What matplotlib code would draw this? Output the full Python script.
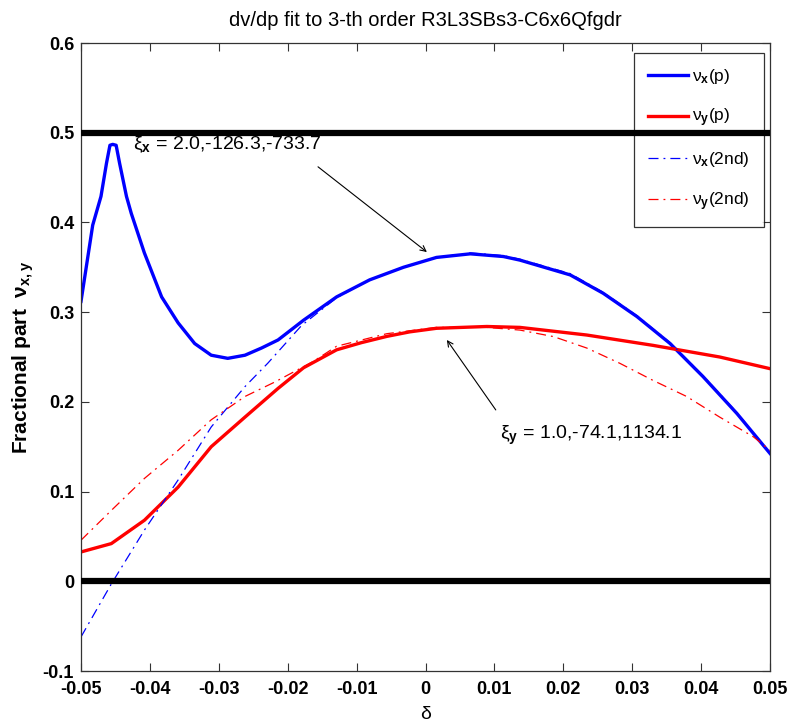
import numpy as np
import matplotlib
matplotlib.use("Agg")
import matplotlib.pyplot as plt

plt.rcParams['font.family'] = ['Liberation Sans', 'DejaVu Sans']
plt.rcParams['mathtext.fontset'] = 'custom'
plt.rcParams['mathtext.rm'] = 'Liberation Sans'
plt.rcParams['mathtext.bf'] = 'Liberation Sans:bold'
plt.rcParams['mathtext.it'] = 'Liberation Sans:italic'

# tune vs momentum deviation, full tracking
d_vx = [-0.05, -0.0483, -0.0471, -0.0463, -0.0458, -0.0454, -0.0449, -0.0444, -0.0434,
        -0.0427, -0.0408, -0.0383, -0.0359, -0.0335, -0.0311, -0.0287, -0.0262, -0.0238,
        -0.0214, -0.0177, -0.0129, -0.0081, -0.0032, 0.0016, 0.0065, 0.0113, 0.0137,
        0.021, 0.0258, 0.0307, 0.0355, 0.0403, 0.0452, 0.05]
nu_x = [0.312, 0.397, 0.429, 0.466, 0.486, 0.487, 0.486, 0.466, 0.429,
        0.410, 0.366, 0.317, 0.288, 0.265, 0.252, 0.2485, 0.252, 0.260,
        0.269, 0.291, 0.317, 0.336, 0.350, 0.361, 0.365, 0.362, 0.358,
        0.3415, 0.321, 0.295, 0.265, 0.228, 0.187, 0.1425]

d_vy = [-0.05, -0.0456, -0.0408, -0.0359, -0.0311, -0.0262, -0.0214, -0.0177, -0.0129,
        -0.0093, -0.0056, -0.0023, 0.0016, 0.0089, 0.0137, 0.0234, 0.033, 0.0427, 0.05]
nu_y = [0.0327, 0.042, 0.068, 0.105, 0.150, 0.183, 0.215, 0.238, 0.258,
        0.266, 0.273, 0.278, 0.282, 0.284, 0.283, 0.2745, 0.263, 0.250, 0.237]

# second order fits
d_fx = [-0.05, -0.0456, -0.0408, -0.0359, -0.0311, -0.0262, -0.0229, -0.018, -0.0129,
        -0.0081, -0.0032, 0.0016, 0.0065, 0.0113, 0.0137, 0.021, 0.0258, 0.0307, 0.0355,
        0.0403, 0.0452, 0.05]
fit_x = [-0.062, -0.003, 0.057, 0.113, 0.172, 0.217, 0.243, 0.285, 0.316,
         0.336, 0.350, 0.361, 0.366, 0.363, 0.359, 0.343, 0.322, 0.296, 0.266,
         0.229, 0.188, 0.143]

d_fy = [-0.05, -0.0456, -0.0408, -0.0359, -0.0311, -0.0262, -0.0219, -0.0163, -0.0129,
        -0.0056, 0.0016, 0.0089, 0.0137, 0.0186, 0.0234, 0.0282, 0.033, 0.0379, 0.0427,
        0.0476, 0.05]
fit_y = [0.0458, 0.079, 0.1146, 0.146, 0.180, 0.206, 0.222, 0.245, 0.262,
         0.276, 0.283, 0.283, 0.280, 0.2727, 0.260, 0.243, 0.224, 0.206, 0.183,
         0.161, 0.146]

xi_x = "2.0,-126.3,-733.7"
xi_y = "1.0,-74.1,1134.1"

fig = plt.figure(figsize=(7.89, 7.28), dpi=100)
ax = fig.add_axes([81 / 789, 57 / 728, 689 / 789, 628 / 728])

dashdot = (0, (8, 4, 1.5, 4))
ax.plot(d_vx, nu_x, color='#0000ff', lw=2.4, solid_joinstyle='round', label='ν$_\\mathbf{x}$(p)')
ax.plot(d_vy, nu_y, color='#ff0000', lw=2.4, solid_joinstyle='round', label='ν$_\\mathbf{y}$(p)')
ax.plot(d_fx, fit_x, color='#0000ff', lw=0.9, ls=dashdot, label='ν$_\\mathbf{x}$(2nd)')
ax.plot(d_fy, fit_y, color='#ff0000', lw=0.9, ls=dashdot, label='ν$_\\mathbf{y}$(2nd)')

# integer / half-integer resonance lines
ax.axhline(0.0, color='black', lw=4.5, zorder=6)
ax.axhline(0.5, color='black', lw=4.5, zorder=6)

# chromaticity labels with arrows
ax.text(-0.0425, 0.487, 'ξ$_\\mathbf{x}$ = ' + xi_x, fontsize=14, va='center', ha='left')
ax.annotate('', xy=(0.0002, 0.367), xytext=(-0.0156, 0.462),
            arrowprops=dict(arrowstyle='->', lw=0.8, color='black', shrinkA=0, shrinkB=0))
ax.text(0.0108, 0.163, 'ξ$_\\mathbf{y}$ = ' + xi_y, fontsize=14, va='center', ha='left')
ax.annotate('', xy=(0.0031, 0.269), xytext=(0.0102, 0.191),
            arrowprops=dict(arrowstyle='->', lw=0.8, color='black', shrinkA=0, shrinkB=0))

ax.set_xlim(-0.05, 0.05)
ax.set_ylim(-0.1, 0.6)
ax.set_xticks(np.linspace(-0.05, 0.05, 11))
ax.set_xticklabels(['-0.05', '-0.04', '-0.03', '-0.02', '-0.01', '0',
                    '0.01', '0.02', '0.03', '0.04', '0.05'])
ax.set_yticks(np.linspace(-0.1, 0.6, 8))
ax.set_yticklabels(['-0.1', '0', '0.1', '0.2', '0.3', '0.4', '0.5', '0.6'])
ax.tick_params(direction='in', length=6, width=0.8, top=True, right=True,
               labelsize=13, colors='#333333', labelcolor='black')
ax.tick_params(axis='x', pad=7)
ax.tick_params(axis='y', pad=5)
for lab in ax.get_xticklabels() + ax.get_yticklabels():
    lab.set_fontweight('bold')
for sp in ax.spines.values():
    sp.set_color('#333333')
    sp.set_linewidth(0.9)

ax.set_title('dv/dp fit to 3-th order R3L3SBs3-C6x6Qfgdr', fontsize=14.5, pad=12)
ax.set_xlabel('δ', fontsize=14, labelpad=6)
ax.set_ylabel('Fractional part  ν$_\\mathbf{x,y}$', fontsize=15, fontweight='bold',
              labelpad=5)

leg = ax.legend(loc='upper right', bbox_to_anchor=(0.991, 0.984), borderaxespad=0,
                fancybox=False, edgecolor='black', fontsize=12.5, handlelength=2.3,
                labelspacing=1.2, borderpad=0.8, handletextpad=0.25)
leg.get_frame().set_linewidth(0.9)
leg.set_zorder(5)

fig.savefig('out.png', dpi=100)
